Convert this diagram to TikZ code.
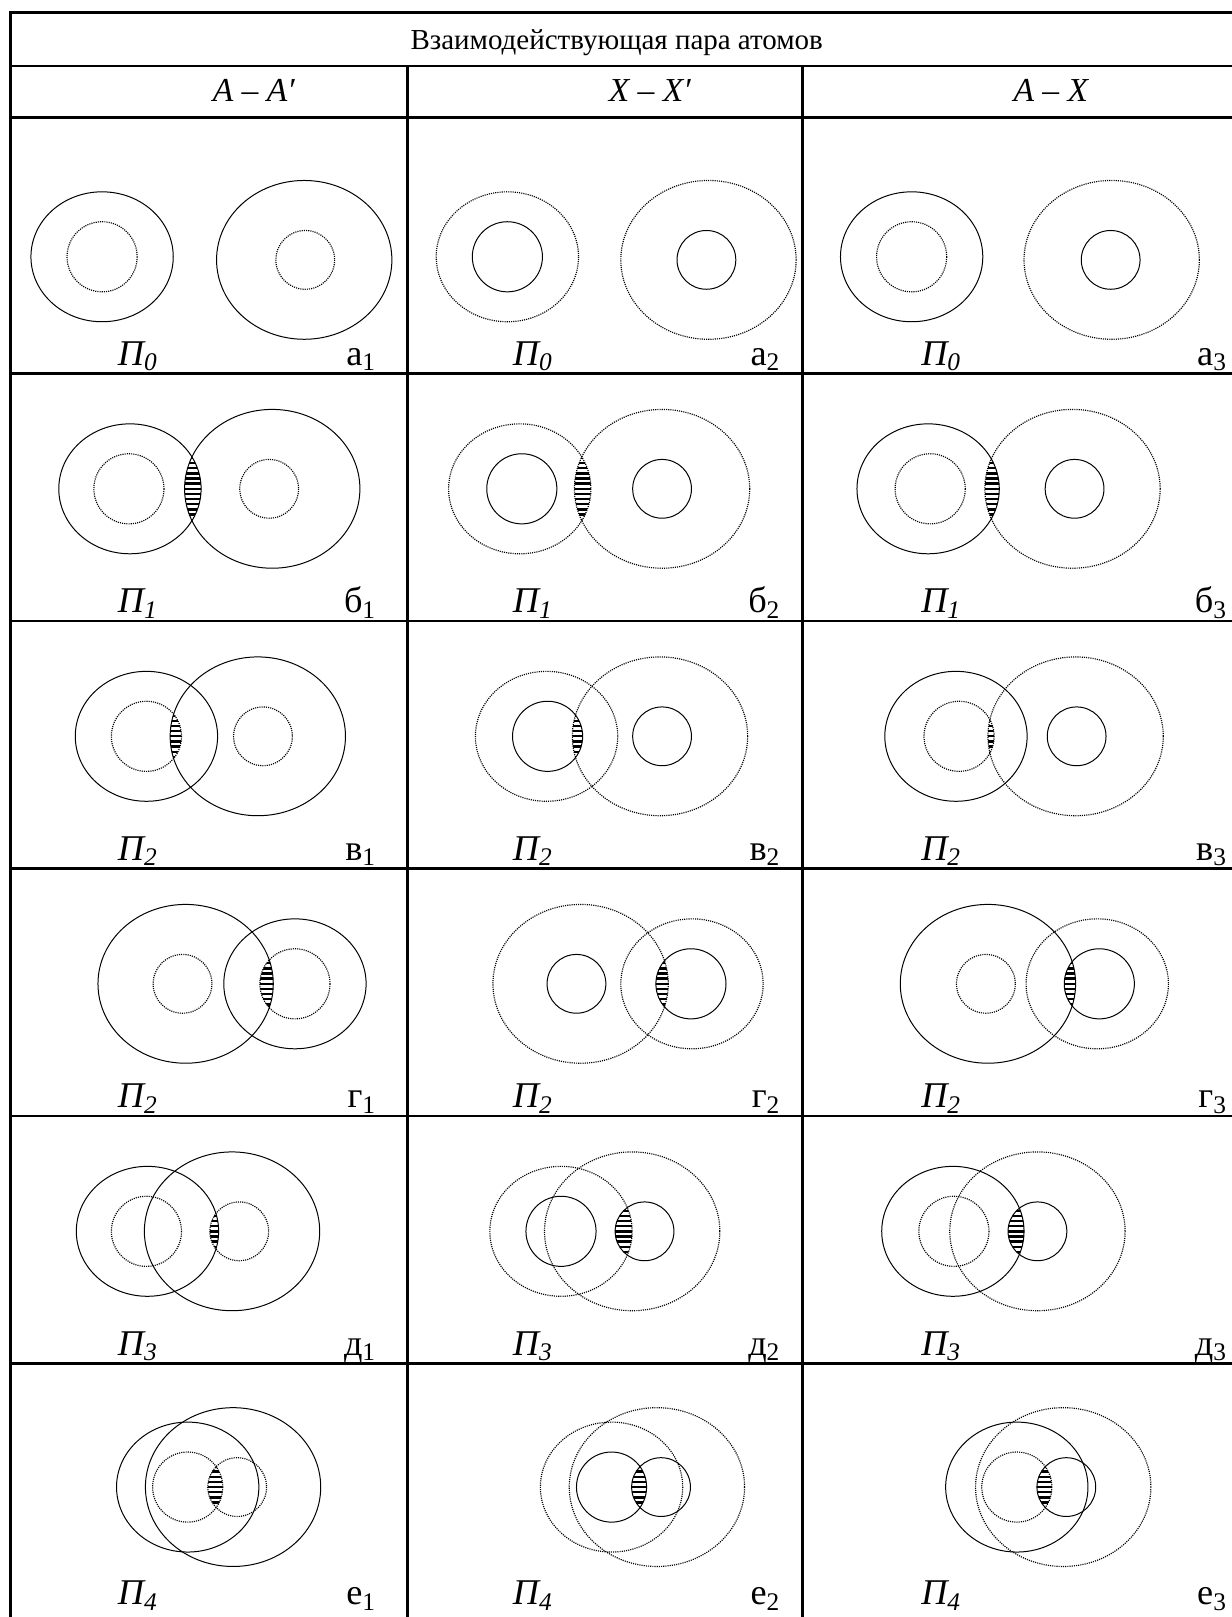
\documentclass[tikz,border=0pt]{standalone}
\usepackage{fontspec}
\setmainfont{Liberation Serif}

% striped overlap of two shells
\newcommand{\lens}[3]{%
  \begin{scope}
    \clip #1; \clip #2;
    \foreach \dy in {-75,-70,...,75}
      \draw[bar] (0,#3+\dy) -- (1194,#3+\dy);
  \end{scope}}

\begin{document}
\begin{tikzpicture}[
      x=0.02cm, y=-0.02cm,
      tab/.style={line width=1.4pt, line cap=rect},
      ring/.style={line width=0.55pt},
      dotring/.style={line width=0.65pt, dash pattern=on 0.6pt off 0.6pt},
      shellsmall/.style={x radius=69, y radius=63},
      shellbig/.style={x radius=85, y radius=77},
      corebig/.style={radius=34},
      coresmall/.style={radius=28.5},
      bar/.style={line width=1.3pt},
      txt/.style={font=\fontsize{16}{19}\selectfont, inner sep=0pt, anchor=base},
      head/.style={txt, font=\fontsize{18.5}{22}\selectfont\itshape},
      plabel/.style={txt, font=\fontsize{20}{24}\selectfont\itshape, anchor=base west},
      letter/.style={txt, font=\fontsize{20}{24}\selectfont, anchor=base east}
  ]
      \useasboundingbox (0,0) rectangle (1194,1568);

      % table
      \draw[tab] (10,12) -- (1194,12);
      \draw[tab] (10,64) -- (1194,64);
      \foreach \yy in {114,362,602,842,1082,1322}
          \draw[tab] (10,\yy) -- (1194,\yy);
      \draw[tab] (10,12) -- (10,1568);
      \foreach \xx in {395,778}
          \draw[tab] (\xx,64) -- (\xx,1568);

      \node[txt] (title) at (598,48) {Взаимодействующая пара атомов};
      \node[head] (hAA) at (246,98) {A – A′};
      \node[head] (hXX) at (630,98) {X – X′};
      \node[head] (hAX) at (1019,98) {A – X};

      \foreach \row/\yy/\p/\l in {a/354/0/а, b/594/1/б, v/834/2/в,
                                  g/1074/2/г, d/1314/3/д, e/1556/4/е} {
          \foreach \col/\xp/\xl in {1/114/365, 2/497/757, 3/893/1190} {
              \node[plabel] (p\row\col) at (\xp,\yy) {П\textsubscript{\p}};
              \node[letter] (l\row\col) at (\xl,\yy) {\l\textsubscript{\col}};
          }
      }

      % overlaps
      \lens{(126,474) circle [shellsmall]}{(264,474) circle [shellbig]}{474}
      \lens{(504,474) circle [shellsmall]}{(642,474) circle [shellbig]}{474}
      \lens{(900,474) circle [shellsmall]}{(1040,474) circle [shellbig]}{474}
      \lens{(142,714) circle [corebig]}{(250,714) circle [shellbig]}{714}
      \lens{(531,714) circle [corebig]}{(640,714) circle [shellbig]}{714}
      \lens{(930,714) circle [corebig]}{(1043,714) circle [shellbig]}{714}
      \lens{(180,954) circle [shellbig]}{(286,954) circle [corebig]}{954}
      \lens{(563,954) circle [shellbig]}{(670,954) circle [corebig]}{954}
      \lens{(958,954) circle [shellbig]}{(1066,954) circle [corebig]}{954}
      \lens{(143,1194) circle [shellsmall]}{(232,1194) circle [coresmall]}{1194}
      \lens{(544,1194) circle [shellsmall]}{(625,1194) circle [coresmall]}{1194}
      \lens{(924,1194) circle [shellsmall]}{(1006,1194) circle [coresmall]}{1194}
      \lens{(182,1442) circle [corebig]}{(230,1442) circle [coresmall]}{1442}
      \lens{(593,1442) circle [corebig]}{(641,1442) circle [coresmall]}{1442}
      \lens{(986,1442) circle [corebig]}{(1034,1442) circle [coresmall]}{1442}

      % row a
      \draw[ring] (99,249) circle [shellsmall];   \draw[dotring] (99,249) circle [corebig];
      \draw[ring] (295,252) circle [shellbig];    \draw[dotring] (296,252) circle [coresmall];
      \draw[dotring] (492,249) circle [shellsmall]; \draw[ring] (492,249) circle [corebig];
      \draw[dotring] (687,252) circle [shellbig];   \draw[ring] (685,252) circle [coresmall];
      \draw[ring] (884,249) circle [shellsmall];  \draw[dotring] (884,249) circle [corebig];
      \draw[dotring] (1078,252) circle [shellbig];  \draw[ring] (1077,252) circle [coresmall];

      % row b
      \draw[ring] (126,474) circle [shellsmall];  \draw[dotring] (125,474) circle [corebig];
      \draw[ring] (264,474) circle [shellbig];    \draw[dotring] (261,474) circle [coresmall];
      \draw[dotring] (504,474) circle [shellsmall]; \draw[ring] (506,474) circle [corebig];
      \draw[dotring] (642,474) circle [shellbig];   \draw[ring] (642,474) circle [coresmall];
      \draw[ring] (900,474) circle [shellsmall];  \draw[dotring] (902,474) circle [corebig];
      \draw[dotring] (1040,474) circle [shellbig];  \draw[ring] (1042,474) circle [coresmall];

      % row v
      \draw[ring] (142,714) circle [shellsmall];  \draw[dotring] (142,714) circle [corebig];
      \draw[ring] (250,714) circle [shellbig];    \draw[dotring] (255,714) circle [coresmall];
      \draw[dotring] (530,714) circle [shellsmall]; \draw[ring] (531,714) circle [corebig];
      \draw[dotring] (640,714) circle [shellbig];   \draw[ring] (642,714) circle [coresmall];
      \draw[ring] (927,714) circle [shellsmall];  \draw[dotring] (930,714) circle [corebig];
      \draw[dotring] (1043,714) circle [shellbig];  \draw[ring] (1044,714) circle [coresmall];

      % row g
      \draw[ring] (180,954) circle [shellbig];    \draw[dotring] (177,954) circle [coresmall];
      \draw[ring] (286,954) circle [shellsmall];  \draw[dotring] (286,954) circle [corebig];
      \draw[dotring] (563,954) circle [shellbig];   \draw[ring] (559,954) circle [coresmall];
      \draw[dotring] (671,954) circle [shellsmall]; \draw[ring] (670,954) circle [corebig];
      \draw[ring] (958,954) circle [shellbig];    \draw[dotring] (956,954) circle [coresmall];
      \draw[dotring] (1064,954) circle [shellsmall]; \draw[ring] (1066,954) circle [corebig];

      % row d
      \draw[ring] (143,1194) circle [shellsmall]; \draw[dotring] (142,1194) circle [corebig];
      \draw[ring] (225,1194) circle [shellbig];   \draw[dotring] (232,1194) circle [coresmall];
      \draw[dotring] (544,1194) circle [shellsmall]; \draw[ring] (544,1194) circle [corebig];
      \draw[dotring] (613,1194) circle [shellbig];   \draw[ring] (625,1194) circle [coresmall];
      \draw[ring] (924,1194) circle [shellsmall]; \draw[dotring] (925,1194) circle [corebig];
      \draw[dotring] (1006,1194) circle [shellbig];  \draw[ring] (1006,1194) circle [coresmall];

      % row e
      \draw[ring] (182,1442) circle [shellsmall]; \draw[dotring] (182,1442) circle [corebig];
      \draw[ring] (226,1442) circle [shellbig];   \draw[dotring] (230,1442) circle [coresmall];
      \draw[dotring] (593,1442) circle [shellsmall]; \draw[ring] (593,1442) circle [corebig];
      \draw[dotring] (637,1442) circle [shellbig];   \draw[ring] (641,1442) circle [coresmall];
      \draw[ring] (986,1442) circle [shellsmall]; \draw[dotring] (986,1442) circle [corebig];
      \draw[dotring] (1031,1442) circle [shellbig];  \draw[ring] (1034,1442) circle [coresmall];
  \end{tikzpicture}
\end{document}
